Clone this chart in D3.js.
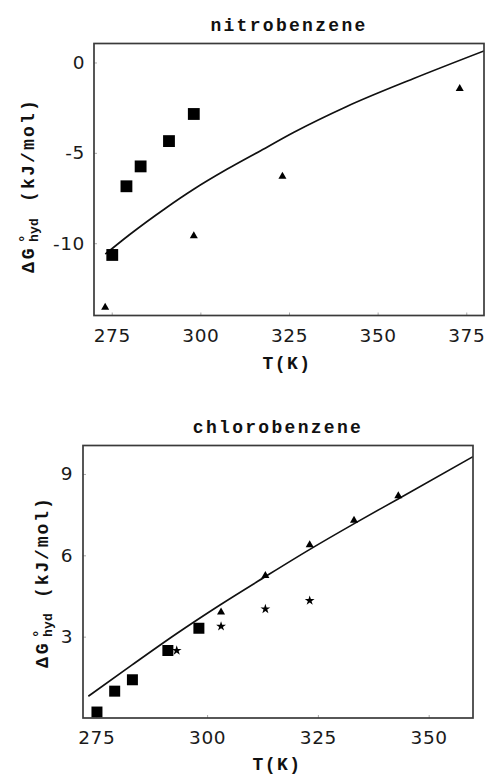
<!DOCTYPE html>
<html>
<head>
<meta charset="utf-8">
<script src="https://cdn.jsdelivr.net/npm/d3@7"></script>
<style>
  html, body { margin: 0; padding: 0; background: #fff; }
  svg { display: block; }
</style>
</head>
<body>
<svg id="chart" width="488" height="775"></svg>
<script>
// ---------- Data: nitrobenzene ----------
const nbTitle = "nitrobenzene";
const nbXTicks = [275, 300, 325, 350, 375];
const nbYTicks = [0, -5, -10];
const nbSquaresT = [275.15, 279.15, 283.15, 291.15, 298.15];
const nbSquaresG = [-10.65, -6.85, -5.75, -4.35, -2.85];
const nbTrianglesT = [273.15, 298.15, 323.15, 373.15];
const nbTrianglesG = [-13.55, -9.6, -6.3, -1.45];
const nbCurveT = [273.2, 280, 290, 298, 307.6, 317, 326.4, 341, 360, 380];
const nbCurveG = [-10.6, -9.53, -8.09, -7.03, -5.9, -4.88, -3.86, -2.46, -0.9, 0.64];

// ---------- Data: chlorobenzene ----------
const cbTitle = "chlorobenzene";
const cbXTicks = [275, 300, 325, 350];
const cbYTicks = [3, 6, 9];
const cbSquaresT = [275.15, 279.15, 283.15, 291.15, 298.15];
const cbSquaresG = [0.22, 0.99, 1.41, 2.49, 3.31];
const cbStarsT = [293.15, 303.15, 313.15, 323.15];
const cbStarsG = [2.49, 3.38, 4.02, 4.33];
const cbTrianglesT = [303.15, 313.15, 323.15, 333.15, 343.15];
const cbTrianglesG = [3.9, 5.25, 6.38, 7.29, 8.19];
const cbLineT = [273.2, 283, 293, 303, 313, 323, 333, 343, 360];
const cbLineG = [0.8, 1.95, 3.1, 4.18, 5.2, 6.2, 7.15, 8.07, 9.64];

const svg = d3.select("#chart");
const monoFont = "'Liberation Mono', 'DejaVu Sans Mono', monospace";
const sansFont = "'DejaVu Sans', Verdana, sans-serif";

function zip(a, b) { return a.map((v, i) => [v, b[i]]); }

function panel(cfg) {
  const g = svg.append("g");
  const x = d3.scaleLinear().domain(cfg.xDomain).range([cfg.left, cfg.right]);
  const y = d3.scaleLinear().domain(cfg.yDomain).range([cfg.bottom, cfg.top]);

  const clipId = "clip" + cfg.id;
  svg.append("clipPath").attr("id", clipId)
    .append("rect").attr("x", cfg.left).attr("y", cfg.top)
    .attr("width", cfg.right - cfg.left).attr("height", cfg.bottom - cfg.top);

  // axes with tiny inward ticks
  const xAxis = d3.axisBottom(x).tickValues(cfg.xTicks).tickSize(-3)
    .tickPadding(cfg.xPad).tickFormat(d => String(d));
  const yAxis = d3.axisLeft(y).tickValues(cfg.yTicks).tickSize(-3)
    .tickPadding(cfg.yPad).tickFormat(d => String(d));

  const gx = g.append("g").attr("transform", `translate(0,${cfg.bottom})`).call(xAxis);
  const gy = g.append("g").attr("transform", `translate(${cfg.left},0)`).call(yAxis);
  [gx, gy].forEach(a => {
    a.select(".domain").remove();
    a.selectAll(".tick line").attr("stroke", "#aaa").attr("stroke-width", 1);
    a.selectAll(".tick text").attr("fill", "#1a1a1a")
      .style("font-family", sansFont).style("font-size", "18.5px")
      .attr("letter-spacing", "0.6px");
  });

  // curve / line
  const line = d3.line().x(d => x(d[0])).y(d => y(d[1])).curve(d3.curveMonotoneX);
  g.append("path").datum(zip(cfg.curveT, cfg.curveG))
    .attr("clip-path", `url(#${clipId})`)
    .attr("d", line).attr("fill", "none")
    .attr("stroke", "#111").attr("stroke-width", 1.7);

  // markers
  const addSym = (T, G, type, size) => {
    g.append("g").selectAll("path").data(zip(T, G)).join("path")
      .attr("transform", d => `translate(${x(d[0])},${y(d[1])})`)
      .attr("d", d3.symbol().type(type).size(size))
      .attr("fill", "#000");
  };
  if (cfg.triT) addSym(cfg.triT, cfg.triG, d3.symbolTriangle, 28);
  if (cfg.starT) addSym(cfg.starT, cfg.starG, d3.symbolStar, 30);
  if (cfg.sqT) addSym(cfg.sqT, cfg.sqG, d3.symbolSquare, cfg.sqSize);

  // frame
  g.append("rect").attr("x", cfg.left).attr("y", cfg.top)
    .attr("width", cfg.right - cfg.left).attr("height", cfg.bottom - cfg.top)
    .attr("fill", "none").attr("stroke", "#3a3a3a").attr("stroke-width", 1.7);

  // title
  g.append("text").attr("x", cfg.titleX).attr("y", cfg.titleY)
    .attr("text-anchor", "middle").attr("fill", "#111")
    .style("font-family", monoFont).style("font-size", "18px").style("font-weight", "bold")
    .attr("letter-spacing", "2.3px").text(cfg.title);

  // x label
  g.append("text").attr("x", cfg.xLabelX).attr("y", cfg.xLabelY)
    .attr("text-anchor", "middle").attr("fill", "#111")
    .style("font-family", monoFont).style("font-size", "18px").style("font-weight", "bold")
    .attr("letter-spacing", "1.5px").text("T(K)");

  // y label (rotated)
  const yl = g.append("g")
    .attr("transform", `translate(${cfg.yLabelX},${cfg.yLabelY}) rotate(-90)`)
    .attr("fill", "#111")
    .style("font-family", monoFont).style("font-weight", "bold");
  yl.append("text").attr("x", 0).attr("y", 0)
    .style("font-size", "18px").attr("letter-spacing", "3px").text("ΔG");
  yl.append("text").attr("x", 30).attr("y", -4)
    .style("font-size", "14px").text("°");
  yl.append("text").attr("x", 31).attr("y", 4)
    .style("font-size", "13px").attr("letter-spacing", "0.2px").text("hyd");
  yl.append("text").attr("x", cfg.yLabelUnitX).attr("y", 0)
    .style("font-size", "18px").attr("letter-spacing", cfg.yLabelLS).text("(kJ/mol)");
}

panel({
  id: "nb", title: nbTitle,
  left: 94, right: 484, top: 43.5, bottom: 315.5,
  xDomain: [270, 380], yDomain: [-14, 1.05],
  xTicks: nbXTicks, yTicks: nbYTicks, xPad: 13, yPad: 9,
  curveT: nbCurveT, curveG: nbCurveG,
  triT: nbTrianglesT, triG: nbTrianglesG,
  sqT: nbSquaresT, sqG: nbSquaresG, sqSize: 140,
  titleX: 289, titleY: 31,
  xLabelX: 287, xLabelY: 369,
  yLabelX: 34, yLabelY: 273, yLabelUnitX: 71, yLabelLS: "2.2px"
});

panel({
  id: "cb", title: cbTitle,
  left: 83, right: 473, top: 445.5, bottom: 718,
  xDomain: [272, 360], yDomain: [0, 10.05],
  xTicks: cbXTicks, yTicks: cbYTicks, xPad: 12.5, yPad: 10,
  curveT: cbLineT, curveG: cbLineG,
  triT: cbTrianglesT, triG: cbTrianglesG,
  starT: cbStarsT, starG: cbStarsG,
  sqT: cbSquaresT, sqG: cbSquaresG, sqSize: 121,
  titleX: 278, titleY: 433,
  xLabelX: 277, xLabelY: 770,
  yLabelX: 48, yLabelY: 668, yLabelUnitX: 70, yLabelLS: "1.9px"
});
</script>
</body>
</html>
